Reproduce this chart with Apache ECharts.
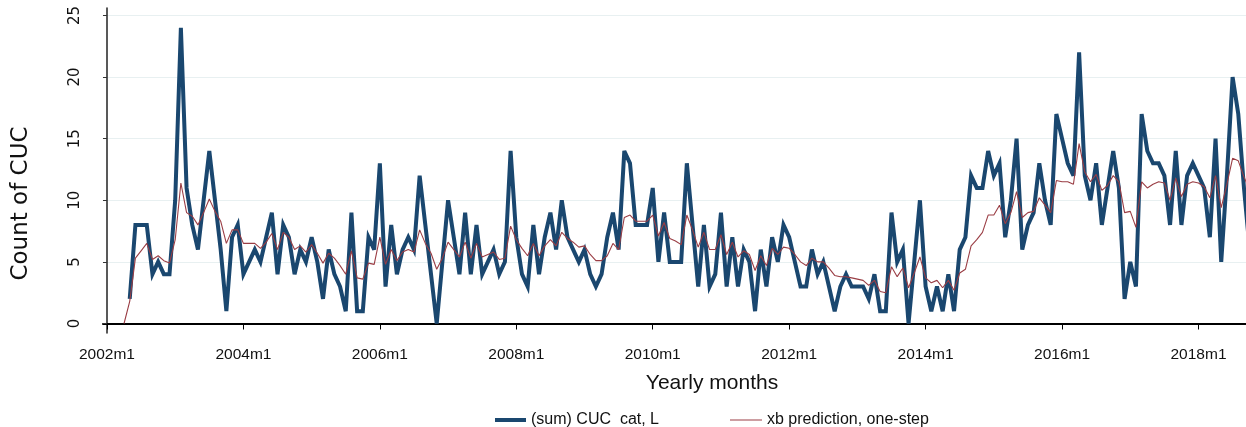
<!DOCTYPE html>
<html>
<head>
<meta charset="utf-8">
<script src="https://cdn.jsdelivr.net/npm/echarts@6/dist/echarts.min.js"></script>
<style>
  html, body { margin: 0; padding: 0; background: #ffffff; }
  #chart { width: 1246px; height: 427px; }
</style>
</head>
<body>
<div id="chart"></div>
<script>
// Months are counted from 2002m1 (= 0).
const cucStart = 4; // first observation: 2002m5
const cucCounts = [
  2, 8, 8, 8, 4, 5, 4, 4,
  10, 24, 11, 8, 6, 10, 14, 10, 6, 1, 7, 8,
  4, 5, 6, 5, 7, 9, 4, 8, 7, 4, 6, 5,
  7, 5, 2, 6, 4, 3, 1, 9, 1, 1, 7, 6,
  13, 3, 8, 4, 6, 7, 6, 12, 8, 4, 0, 5,
  10, 7, 4, 9, 4, 8, 4, 5, 6, 4, 5, 14,
  7, 4, 3, 8, 4, 7, 9, 6, 10, 7, 6, 5,
  6, 4, 3, 4, 7, 9, 6, 14, 13, 8, 8, 8,
  11, 5, 9, 5, 5, 5, 13, 8, 3, 8, 3, 4,
  9, 3, 7, 3, 6, 5, 1, 6, 3, 7, 5, 8,
  7, 5, 3, 3, 6, 4, 5, 3, 1, 3, 4, 3,
  3, 3, 2, 4, 1, 1, 9, 5, 6, 0, 5, 10,
  3, 1, 3, 1, 4, 1, 6, 7, 12, 11, 11, 14,
  12, 13, 7, 10, 15, 6, 8, 9, 13, 10, 8, 17,
  15, 13, 12, 22, 12, 10, 13, 8, 11, 14, 11, 2,
  5, 3, 17, 14, 13, 13, 12, 8, 14, 8, 12, 13,
  12, 11, 7, 15, 5, 12, 20, 17, 11, 6
];

const xbStart = 3; // first one-step prediction: 2002m4
const xbPrediction = [
  0, 1.8, 5.3, 5.9, 6.5, 5.2, 5.5, 5.1, 4.9,
  6.8, 11.4, 9.0, 8.7, 8.0, 9.0, 10.1, 9.1, 8.3, 6.5, 7.6, 7.6,
  6.5, 6.5, 6.5, 6.1, 6.6, 7.3, 6.0, 7.4, 7.0, 6.0, 6.3, 5.8,
  6.4, 5.7, 4.9, 5.7, 5.3, 4.7, 4.0, 5.9, 3.7, 3.6, 4.9, 4.8,
  7.0, 4.8, 6.0, 5.1, 5.8, 6.0, 5.8, 7.6, 6.5, 5.7, 4.4, 5.3,
  6.6, 6.0, 5.4, 6.6, 5.3, 6.5, 5.4, 5.6, 5.8, 5.2, 5.3, 7.9,
  6.8, 6.1, 5.5, 6.5, 5.5, 6.3, 6.8, 6.3, 7.4, 6.9, 6.6, 6.2,
  6.3, 5.6, 5.1, 5.1, 5.5, 6.5, 6.0, 8.6, 8.8, 8.3, 8.3, 8.3,
  8.8, 7.1, 8.2, 6.9, 6.7, 6.4, 8.8, 7.6, 6.2, 7.4, 6.0, 6.0,
  7.2, 5.6, 6.6, 5.4, 5.9, 5.6, 4.3, 5.5, 4.7, 6.1, 5.6, 6.2,
  6.1, 5.6, 5.0, 4.7, 5.3, 5.0, 5.0, 4.5, 3.9, 3.8, 3.8, 3.7,
  3.6, 3.5, 3.1, 3.5, 2.6, 2.5, 4.6, 3.8, 4.5, 2.9, 4.1, 5.4,
  3.7, 3.3, 3.5, 2.9, 3.5, 2.7, 4.1, 4.4, 6.3, 6.8, 7.4, 8.8,
  8.8, 9.6, 8.1, 9.0, 10.7, 8.6, 9.0, 9.1, 10.2, 9.6, 9.0, 11.6,
  11.5, 11.5, 11.3, 14.6, 12.3, 11.5, 12.1, 10.8, 11.2, 12.0, 11.5, 9.0,
  9.1, 7.8, 11.5, 11.0, 11.3, 11.5, 11.4, 10.0, 11.8, 10.3, 11.3, 11.5,
  11.4, 11.1, 10.2, 12.0, 9.4, 11.3, 13.4, 13.2, 11.9, 10.8
];

const xTickMonths = [0, 24, 48, 72, 96, 120, 144, 168, 192];
const yTickValues = [0, 5, 10, 15, 20, 25];

const cucName = '(sum) CUC  cat, L';
const xbName = 'xb prediction, one-step';

function monthLabel(m) {
  return (2002 + Math.floor(m / 12)) + 'm' + ((m % 12) + 1);
}
function toPairs(start, values) {
  return values.map((v, i) => [start + i, v]);
}

const sansFont = '"Liberation Sans", Arial, sans-serif';
const verdanaLike = '"DejaVu Sans", Verdana, sans-serif';
const navy = '#1a476f';
const maroon = '#9a3d44';

const legendText = { fontFamily: sansFont, fontSize: 16, color: '#111' };

const chart = echarts.init(document.getElementById('chart'), null, { renderer: 'canvas' });

chart.setOption({
  animation: false,
  backgroundColor: '#ffffff',
  // the time axis runs on past the right edge of the page
  grid: { left: 103, top: 8, width: 1218, height: 325, outerBoundsMode: 'none' },
  legend: [
    {
      left: 490, top: 407,
      icon: 'rect', itemWidth: 31, itemHeight: 4,
      data: [cucName],
      textStyle: legendText
    },
    {
      left: 725, top: 407,
      icon: 'rect', itemWidth: 32, itemHeight: 1,
      data: [xbName],
      textStyle: legendText
    }
  ],
  xAxis: {
    type: 'value',
    min: -0.7,
    max: 213.55,
    name: 'Yearly months',
    nameLocation: 'middle',
    nameGap: 40,
    nameTextStyle: { fontFamily: sansFont, fontSize: 21, color: '#111' },
    axisLine: { show: true, lineStyle: { color: '#000', width: 2 } },
    axisTick: { show: true, length: 6, customValues: xTickMonths, lineStyle: { color: '#000', width: 1 } },
    axisLabel: {
      customValues: xTickMonths,
      formatter: (v) => monthLabel(v),
      fontFamily: sansFont,
      fontSize: 15.5,
      color: '#111',
      margin: 14
    },
    splitLine: { show: false }
  },
  yAxis: {
    type: 'value',
    min: -0.77,
    max: 25.6,
    name: 'Count of CUC',
    nameLocation: 'middle',
    nameGap: 70,
    nameTextStyle: { fontFamily: verdanaLike, fontSize: 23, color: '#111', padding: [0, 66, 0, 0] },
    axisLine: { show: true, lineStyle: { color: '#222', width: 1.5 } },
    axisTick: { show: true, length: 4, customValues: yTickValues, lineStyle: { color: '#333', width: 1 } },
    axisLabel: {
      customValues: yTickValues,
      rotate: 90,
      fontFamily: verdanaLike,
      fontSize: 15,
      color: '#111',
      margin: 20
    },
    splitLine: { show: true, lineStyle: { color: '#e8f0f1', width: 1.2 } }
  },
  series: [
    {
      name: cucName,
      type: 'line',
      data: toPairs(cucStart, cucCounts),
      symbol: 'none',
      lineStyle: { color: navy, width: 4, join: 'miter', miterLimit: 4 },
      itemStyle: { color: navy },
      z: 2
    },
    {
      name: xbName,
      type: 'line',
      data: toPairs(xbStart, xbPrediction),
      symbol: 'none',
      lineStyle: { color: maroon, width: 1.1 },
      itemStyle: { color: maroon },
      z: 3
    }
  ]
});
</script>
</body>
</html>
